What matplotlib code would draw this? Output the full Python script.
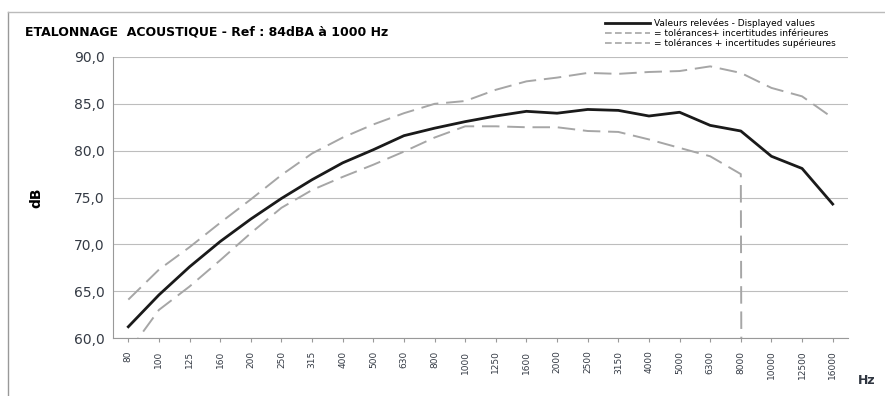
import numpy as np
import matplotlib
matplotlib.use("Agg")
import matplotlib.pyplot as plt
from matplotlib.lines import Line2D

# Frequencies (Hz) and levels (dB)
freqs = ["80", "100", "125", "160", "200", "250", "315", "400", "500", "630",
         "800", "1000", "1250", "1600", "2000", "2500", "3150", "4000", "5000",
         "6300", "8000", "10000", "12500", "16000"]
measured = [61.2, 64.6, 67.6, 70.3, 72.7, 74.9, 76.9, 78.7, 80.1, 81.6,
            82.4, 83.1, 83.7, 84.2, 84.0, 84.4, 84.3, 83.7, 84.1, 82.7,
            82.1, 79.4, 78.1, 74.3]
lower = [58.5, 63.0, 65.5, 68.3, 71.2, 73.9, 75.8, 77.2, 78.5, 79.9,
         81.4, 82.6, 82.6, 82.5, 82.5, 82.1, 82.0, 81.2, 80.3, 79.4,
         77.5, -1000.0, -1000.0, -1000.0]
upper = [64.1, 67.3, 69.7, 72.3, 74.8, 77.4, 79.7, 81.4, 82.8, 84.0,
         85.0, 85.3, 86.5, 87.4, 87.8, 88.3, 88.2, 88.4, 88.5, 89.0,
         88.3, 86.7, 85.8, 83.5]
yticks = [60, 65, 70, 75, 80, 85, 90]

fig = plt.figure(figsize=(8.85, 3.96), dpi=100)
ax = fig.add_axes([113 / 885, 1 - 338 / 396, 735 / 885, 281 / 396])

x = np.arange(len(freqs))
dash = (0, (9, 4))
ax.plot(x, lower, color="#a6a6a6", lw=1.4, linestyle=dash)
ax.plot(x, upper, color="#a6a6a6", lw=1.4, linestyle=dash)
ax.plot(x, measured, color="#1a1a1a", lw=2.0)

ax.set_xlim(-0.5, len(freqs) - 0.5)
ax.set_ylim(60, 90)
ax.set_yticks(yticks)
ax.set_yticklabels([f"{v:.1f}".replace(".", ",") for v in yticks],
                   fontsize=10, color="#343a44")
ax.set_xticks(x)
ax.set_xticklabels(freqs, rotation=90, fontsize=6.5, color="#343a44")
ax.tick_params(axis="y", length=0, pad=6)
ax.tick_params(axis="x", length=3, color="#999999", pad=6)
ax.grid(axis="y", color="#bdbdbd", lw=0.8)
ax.set_axisbelow(True)
for s in ["top", "right"]:
    ax.spines[s].set_visible(False)
ax.spines["left"].set_color("#999999")
ax.spines["bottom"].set_color("#999999")

ax.set_ylabel("dB", fontsize=10, fontweight="bold", labelpad=22)
fig.text(858 / 885, 1 - 380 / 396, "Hz", fontsize=9, fontweight="bold",
         color="#2f3540", va="center")
fig.text(25 / 885, 1 - 32 / 396, "ETALONNAGE  ACOUSTIQUE - Ref : 84dBA à 1000 Hz",
         fontsize=9, fontweight="bold", va="center")

handles = [
    Line2D([], [], color="#1a1a1a", lw=2.0),
    Line2D([], [], color="#a6a6a6", lw=1.2, linestyle=(0, (4, 2))),
    Line2D([], [], color="#a6a6a6", lw=1.2, linestyle=(0, (4, 2))),
]
labels = ["Valeurs relevées - Displayed values",
          "= tolérances+ incertitudes inférieures",
          "= tolérances + incertitudes supérieures"]
fig.legend(handles, labels, loc="upper right", bbox_to_anchor=(840 / 885, 1 - 14 / 396),
           fontsize=6.5, frameon=False, handlelength=5, handletextpad=0.4,
           labelspacing=0.1, borderpad=0)

# chart frame from the scanned page
fig.add_artist(Line2D([8 / 885, 8 / 885], [0, 1 - 12 / 396], color="#999999", lw=1))
fig.add_artist(Line2D([8 / 885, 1], [1 - 12 / 396, 1 - 12 / 396], color="#bbbbbb", lw=1))

fig.savefig("out.png", dpi=100)
